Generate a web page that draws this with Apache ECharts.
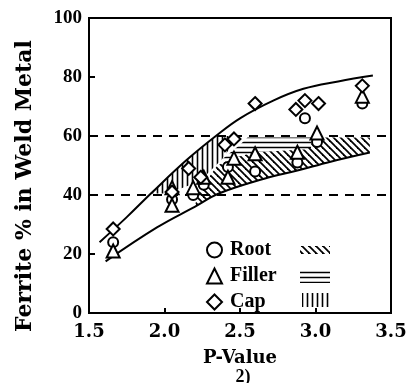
<!DOCTYPE html>
<html><head><meta charset="utf-8">
<script src="https://cdn.jsdelivr.net/npm/echarts@6/dist/echarts.min.js"></script>
<style>html,body{margin:0;padding:0;background:#fff}#c{width:418px;height:383px}</style>
</head><body><div id="c"></div>
<script>
// ---- data ----
const rootPts   = [[1.66,24],[2.05,38.5],[2.19,40],[2.26,43.5],[2.42,49.5],[2.60,48],[2.88,51],[2.93,66],[3.01,58],[3.31,71]];
const fillerPts = [[1.66,21],[2.05,36.5],[2.05,42.5],[2.19,42.5],[2.26,46],[2.42,46],[2.46,52.5],[2.60,54],[2.88,54.5],[3.01,61],[3.31,73.5]];
const capPts    = [[1.66,28.5],[2.05,41],[2.16,49],[2.24,46],[2.40,57],[2.46,59],[2.60,71],[2.87,69],[2.93,72],[3.02,71],[3.31,77]];
const upperCurve = [[1.57,24],[1.75,32.5],[1.91,40.5],[2.15,52],[2.34,60],[2.5,66],[2.72,72],[2.92,76],[3.15,78.5],[3.38,80.5]];
const lowerCurve = [[1.61,17.5],[1.95,29],[2.2,36],[2.36,40.5],[2.66,45.5],[2.88,48.3],[3.1,51.3],[3.36,54.4]];
const rootRegion   = [[2.2,36],[2.36,40.5],[2.66,45.5],[2.88,48.3],[3.1,51.3],[3.36,54.4],[3.36,59.5],[3.0,59.5],[2.95,55.5],[2.6,54.5],[2.45,52.5],[2.35,50],[2.28,45],[2.22,40]];
const fillerRegion = [[2.38,52],[2.5,57],[2.55,59.5],[2.97,59.5],[2.97,55.5],[2.6,54.5],[2.45,52.5]];
const capRegion    = [[1.91,40.5],[2.15,52],[2.34,60],[2.5,60],[2.45,57],[2.38,52],[2.28,47],[2.2,44],[2.1,42],[2.0,40.5]];
const dashedLevels = [40, 60];
const seriesNames = ['Root','Filler','Cap'];
const xTickMarks = [2.0, 3.0];

// ---- hatch patterns ----
function makePattern(kind){
  const c = document.createElement('canvas');
  const ctx = c.getContext('2d');
  ctx.strokeStyle = '#000';
  if(kind==='diag'){
    const s=7; c.width=s; c.height=s; ctx.lineWidth=1.8;
    for(let k=-1;k<=1;k++){ctx.beginPath();ctx.moveTo(k*s-1,-1);ctx.lineTo(k*s+s+1,s+1);ctx.stroke();}
  } else if(kind==='horiz'){
    c.width=4; c.height=5; ctx.lineWidth=1.5;
    ctx.beginPath();ctx.moveTo(0,2.5);ctx.lineTo(4,2.5);ctx.stroke();
  } else {
    c.width=5; c.height=4; ctx.lineWidth=1.6;
    ctx.beginPath();ctx.moveTo(2.5,0);ctx.lineTo(2.5,4);ctx.stroke();
  }
  return {image:c, repeat:'repeat'};
}
const pats = [makePattern('diag'), makePattern('horiz'), makePattern('vert')];
const regions = [rootRegion, fillerRegion, capRegion];

const chart = echarts.init(document.getElementById('c'));
const serifB = 'Liberation Serif';
const markerStyle = {color:'#fff', borderColor:'#000', borderWidth:2, opacity:1};

chart.setOption({
  animation:false,
  grid:{left:89, top:18, width:302, height:295, show:true, borderColor:'#000', borderWidth:2, backgroundColor:'transparent'},
  xAxis:{type:'value', min:1.5, max:3.5, interval:0.5,
    axisLine:{lineStyle:{color:'#000', width:2}},
    axisTick:{show:true, inside:true, length:5, lineStyle:{color:'#000',width:2},
      interval:(i,v)=>xTickMarks.indexOf(Number(v))>=0},
    splitLine:{show:false},
    axisLabel:{color:'#000', fontFamily:'DejaVu Serif', fontWeight:'bold', fontSize:18, margin:10,
      formatter:v=>v.toFixed(1)},
    name:'P-Value', nameLocation:'middle', nameGap:36,
    nameTextStyle:{color:'#000', fontFamily:'DejaVu Serif', fontWeight:'bold', fontSize:18}
  },
  yAxis:{type:'value', min:0, max:100, interval:20,
    axisLine:{lineStyle:{color:'#000', width:2}},
    axisTick:{show:true, inside:true, length:6, lineStyle:{color:'#000',width:2}},
    splitLine:{show:false},
    axisLabel:{color:'#000', fontFamily:serifB, fontWeight:'bold', fontSize:19, margin:7}
  },
  legend:{orient:'vertical', left:206, top:240, itemWidth:15, itemHeight:15, itemGap:6, padding:0, z:10,
    data:seriesNames,
    textStyle:{color:'#000', fontFamily:serifB, fontWeight:'bold', fontSize:20, padding:[0,0,0,3]}
  },
  graphic:[
    {type:'text', x:25, y:186, rotation:Math.PI/2,
      style:{text:'Ferrite % in Weld Metal', font:'bold 22px "DejaVu Serif"', fill:'#000', align:'center', verticalAlign:'middle'}},
    {type:'text', x:243, y:377, style:{text:'2)', font:'bold 18px "Liberation Serif"', fill:'#000', align:'center', verticalAlign:'middle'}},
    {type:'rect', shape:{x:300,y:246,width:30,height:8}, style:{fill:pats[0]}},
    {type:'rect', shape:{x:300,y:270,width:30,height:13}, style:{fill:pats[1]}},
    {type:'rect', shape:{x:302,y:293,width:28,height:14}, style:{fill:pats[2]}}
  ],
  series:[
    {type:'custom', name:'regions', silent:true, z:1,
      data:[[0],[1],[2]],
      renderItem:function(params, api){
        const i = params.dataIndex;
        const pts = regions[i].map(p=>api.coord(p));
        return {type:'polygon', shape:{points:pts}, style:{fill:pats[i], stroke:null}};
      }},
    {type:'line', name:'upper', data:upperCurve, smooth:0.4, symbol:'none', z:3,
      lineStyle:{color:'#000', width:2},
      markLine:{silent:true, symbol:'none', label:{show:false},
        lineStyle:{color:'#000', width:2, type:[9,7]},
        data:dashedLevels.map(v=>({yAxis:v}))}},
    {type:'line', name:'lower', data:lowerCurve, smooth:0.4, symbol:'none', z:3,
      lineStyle:{color:'#000', width:2}},
    {type:'scatter', name:'Root', data:rootPts, symbol:'circle', symbolSize:10, z:5, itemStyle:markerStyle},
    {type:'scatter', name:'Filler', data:fillerPts, symbol:'triangle', symbolSize:13, z:5, itemStyle:markerStyle},
    {type:'scatter', name:'Cap', data:capPts, symbol:'diamond', symbolSize:13, z:5, itemStyle:markerStyle}
  ]
});
</script>
</body></html>
